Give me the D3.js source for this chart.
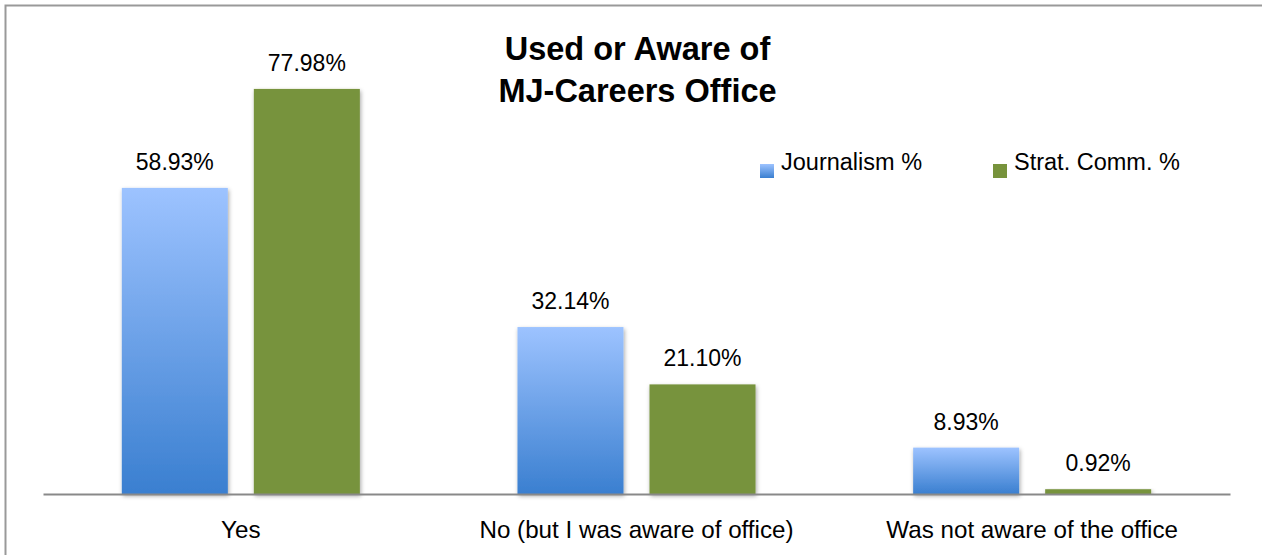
<!DOCTYPE html>
<html>
<head>
<meta charset="utf-8">
<script src="https://cdn.jsdelivr.net/npm/d3@7"></script>
<style>
  html, body { margin: 0; background: #fff; overflow: hidden; }
  svg { display: block; }
  text { font-family: "Liberation Sans", Arial, sans-serif; fill: #000; }
</style>
</head>
<body>
<div id="chart"></div>
<script>
const categories = ["Yes", "No (but I was aware of office)", "Was not aware of the office"];
const seriesNames = ["Journalism %", "Strat. Comm. %"];
const journalism = [58.93, 32.14, 8.93];
const stratComm = [77.98, 21.10, 0.92];
const titleLines = ["Used or Aware of", "MJ-Careers Office"];

const svgWidth = 1262;
const svgHeight = 555;

const svg = d3.select("#chart")
  .append("svg")
  .attr("width", svgWidth)
  .attr("height", svgHeight);

const defs = svg.append("defs");

const grad = defs.append("linearGradient")
  .attr("id", "blueGrad")
  .attr("x1", 0).attr("y1", 0).attr("x2", 0).attr("y2", 1);
grad.append("stop").attr("offset", "0%").attr("stop-color", "#9dc3ff");
grad.append("stop").attr("offset", "100%").attr("stop-color", "#3a7fd0");

const shadow = defs.append("filter")
  .attr("id", "shadow")
  .attr("x", "-10%").attr("y", "-10%")
  .attr("width", "130%").attr("height", "130%");
shadow.append("feDropShadow")
  .attr("dx", 1).attr("dy", 2)
  .attr("stdDeviation", 2)
  .attr("flood-color", "#000")
  .attr("flood-opacity", 0.35);

// chart border (right and bottom edges fall outside the picture)
svg.append("rect")
  .attr("x", 5.5).attr("y", 5.5)
  .attr("width", svgWidth + 20).attr("height", svgHeight + 20)
  .attr("fill", "none")
  .attr("stroke", "#999")
  .attr("stroke-width", 2);

// scales
const x0 = d3.scaleBand()
  .domain(categories)
  .range([43, 1230]);

const x1 = d3.scaleBand()
  .domain(seriesNames)
  .range([0, x0.bandwidth()])
  .paddingInner(0.197)
  .paddingOuter(0.597);

const y = d3.scaleLinear()
  .domain([0, 90])
  .range([494, 26.5]);

const colors = { "Journalism %": "url(#blueGrad)", "Strat. Comm. %": "#77933c" };

const rows = categories.map((c, i) => ({
  cat: c,
  values: [
    { key: seriesNames[0], value: journalism[i] },
    { key: seriesNames[1], value: stratComm[i] }
  ]
}));

const groups = svg.selectAll(".grp")
  .data(rows)
  .enter()
  .append("g")
  .attr("transform", d => `translate(${x0(d.cat)},0)`);

groups.selectAll("rect")
  .data(d => d.values)
  .enter()
  .append("rect")
  .attr("x", d => x1(d.key))
  .attr("y", d => y(d.value))
  .attr("width", x1.bandwidth())
  .attr("height", d => y(0) - y(d.value))
  .attr("fill", d => colors[d.key])
  .attr("filter", "url(#shadow)");

groups.selectAll(".val")
  .data(d => d.values)
  .enter()
  .append("text")
  .attr("x", d => x1(d.key) + x1.bandwidth() / 2)
  .attr("y", d => y(d.value) - 18)
  .attr("text-anchor", "middle")
  .style("font-size", "23px")
  .text(d => d.value.toFixed(2) + "%");

// baseline axis
const bottomAxis = d3.axisBottom(x0).tickSize(0).tickPadding(20);
const axisG = svg.append("g")
  .attr("transform", `translate(0, ${y(0)})`)
  .call(bottomAxis);
axisG.select(".domain").attr("stroke", "#898989").attr("stroke-width", 2);
axisG.selectAll(".tick text")
  .attr("dy", null)
  .attr("y", 44)
  .style("font-size", "24.2px")
  .style("font-family", "'Liberation Sans', Arial, sans-serif")
  .attr("fill", "#000");

// title
svg.append("g").selectAll("text")
  .data(titleLines)
  .enter()
  .append("text")
  .attr("x", 637.5)
  .attr("y", (d, i) => 60 + i * 42)
  .attr("text-anchor", "middle")
  .style("font-size", "32.5px")
  .style("font-weight", "bold")
  .text(d => d);

// legend
const legendX = [760, 993];
const legend = svg.append("g").selectAll("g")
  .data(seriesNames)
  .enter()
  .append("g")
  .attr("transform", (d, i) => `translate(${legendX[i]}, 164)`);
legend.append("rect")
  .attr("width", 14).attr("height", 14)
  .attr("fill", d => colors[d]);
legend.append("text")
  .attr("x", 21).attr("y", 5.5)
  .style("font-size", "23.5px")
  .text(d => d);
</script>
</body>
</html>
